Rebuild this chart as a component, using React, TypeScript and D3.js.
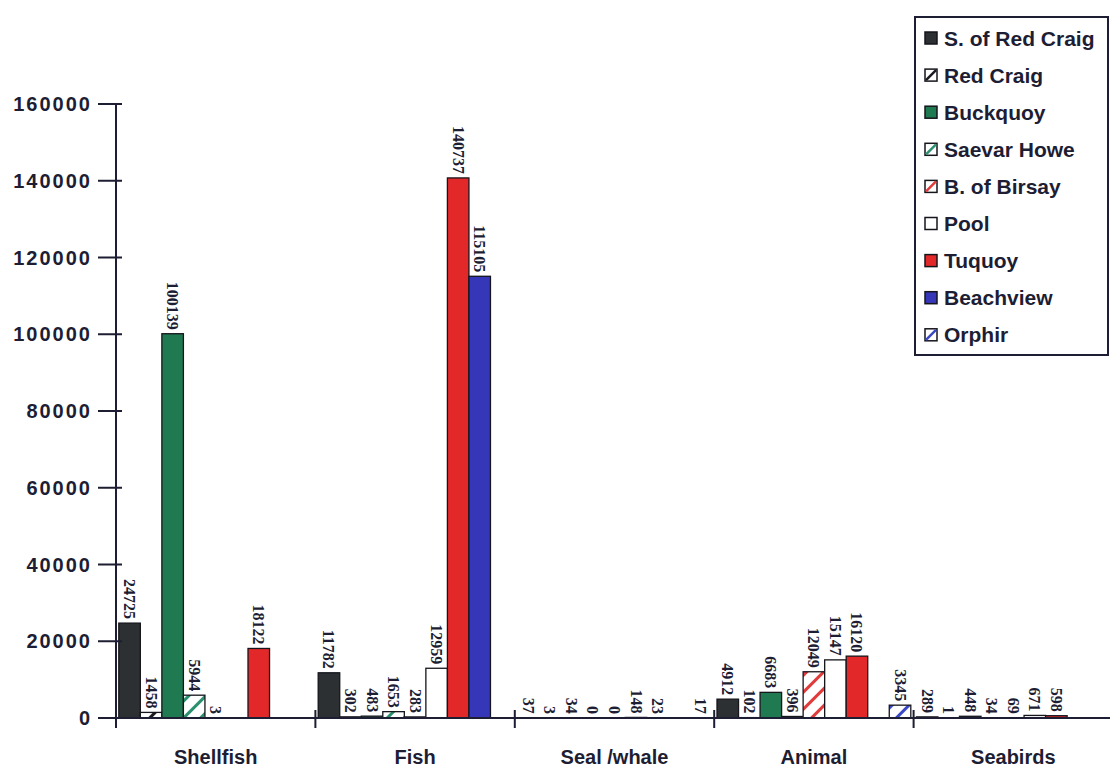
import React from "react";
import * as d3 from "d3";

const categories = ["Shellfish", "Fish", "Seal /whale", "Animal", "Seabirds"];
const seriesNames = [
  "S. of Red Craig",
  "Red Craig",
  "Buckquoy",
  "Saevar Howe",
  "B. of Birsay",
  "Pool",
  "Tuquoy",
  "Beachview",
  "Orphir",
];
const sRedCraig = [24725, 11782, 37, 4912, 289];
const redCraig = [1458, 302, 3, 102, 1];
const buckquoy = [100139, 483, 34, 6683, 448];
const saevarHowe = [5944, 1653, 0, 396, 34];
const birsay = [3, 283, 0, 12049, 69];
const pool = [null, 12959, 148, 15147, 671];
const tuquoy = [18122, 140737, 23, 16120, 598];
const beachview = [null, 115105, null, null, null];
const orphir = [null, null, 17, 3345, null];
const yTicks = [0, 20000, 40000, 60000, 80000, 100000, 120000, 140000, 160000];

const seriesValues: (number | null)[][] = [
  sRedCraig, redCraig, buckquoy, saevarHowe, birsay, pool, tuquoy, beachview, orphir,
];

type Style = { fill: string; hatch?: string };
const styles: Style[] = [
  { fill: "#2c3033" },
  { fill: "#ffffff", hatch: "#1a1a22" },
  { fill: "#1f7a52" },
  { fill: "#ffffff", hatch: "#2a9070" },
  { fill: "#ffffff", hatch: "#e03a3a" },
  { fill: "#ffffff" },
  { fill: "#e3282a" },
  { fill: "#3636b8" },
  { fill: "#ffffff", hatch: "#3a48c8" },
];

const ink = "#1d1d33";

export default function App() {
  const x0 = d3.scaleBand<string>().domain(categories).range([116, 1113]);
  const x1 = d3
    .scaleBand<string>()
    .domain(seriesNames)
    .range([0, x0.bandwidth()])
    .paddingInner(0)
    .paddingOuter(0.13);
  const y = d3.scaleLinear().domain([0, 160000]).range([718, 104]);

  const fillFor = (i: number) =>
    styles[i].hatch ? `url(#hatch${i})` : styles[i].fill;

  return (
    <svg width={1110} height={767} style={{ position: "absolute", left: 0, top: 0, background: "#fff" }}>
      <defs>
        {styles.map((s, i) =>
          s.hatch ? (
            <pattern
              key={i}
              id={`hatch${i}`}
              patternUnits="userSpaceOnUse"
              width={12}
              height={12}
              patternTransform="rotate(45)"
            >
              <rect width={12} height={12} fill="#fff" />
              <rect x={0} y={0} width={3} height={12} fill={s.hatch} />
            </pattern>
          ) : null
        )}
      </defs>

      {/* bars */}
      {categories.map((c, ci) =>
        seriesNames.map((s, si) => {
          const v = seriesValues[si][ci];
          if (v === null || v === undefined) return null;
          const bx = (x0(c) as number) + (x1(s) as number);
          const bw = x1.bandwidth();
          const top = y(v);
          return (
            <g key={`${ci}-${si}`}>
              <rect
                x={bx}
                y={top}
                width={bw}
                height={y(0) - top}
                fill={fillFor(si)}
                stroke="#15151c"
                strokeWidth={1.3}
              />
              <text
                transform={`translate(${bx + bw / 2},${top - 4}) rotate(90)`}
                textAnchor="end"
                dominantBaseline="central"
                fontFamily="'Liberation Serif', 'Times New Roman', serif"
                fontWeight="bold"
                fontSize={16}
                fill={ink}
              >
                {v}
              </text>
            </g>
          );
        })
      )}

      {/* y axis */}
      <line x1={116} x2={116} y1={y(160000)} y2={y(0)} stroke={ink} strokeWidth={2} />
      {yTicks.map((t) => (
        <g key={t}>
          <line x1={98} x2={122} y1={y(t)} y2={y(t)} stroke={ink} strokeWidth={2} />
          <text
            x={92}
            y={y(t)}
            textAnchor="end"
            dominantBaseline="central"
            fontFamily="'Liberation Sans', Arial, sans-serif"
            fontWeight="bold"
            fontSize={20}
            letterSpacing={2}
            fill={ink}
          >
            {t}
          </text>
        </g>
      ))}

      {/* x axis */}
      <line x1={116} x2={1110} y1={y(0)} y2={y(0)} stroke={ink} strokeWidth={2} />
      {categories.map((c) => (
        <line
          key={c}
          x1={x0(c) as number}
          x2={x0(c) as number}
          y1={y(0) - 8}
          y2={y(0) + 10}
          stroke={ink}
          strokeWidth={2}
        />
      ))}
      {categories.map((c) => (
        <text
          key={`l-${c}`}
          x={(x0(c) as number) + x0.bandwidth() / 2}
          y={757}
          textAnchor="middle"
          dominantBaseline="central"
          fontFamily="'Liberation Sans', Arial, sans-serif"
          fontWeight="bold"
          fontSize={20}
          fill={ink}
        >
          {c}
        </text>
      ))}

      {/* legend */}
      <rect x={915} y={17} width={193} height={338} fill="#fff" stroke={ink} strokeWidth={2} />
      {seriesNames.map((s, i) => {
        const cy = 38 + i * 37.1;
        return (
          <g key={s}>
            <rect
              x={925}
              y={cy - 6}
              width={12}
              height={12}
              fill={styles[i].fill}
              stroke="#15151c"
              strokeWidth={1.5}
            />
            {styles[i].hatch ? (
              <line
                x1={926}
                y1={cy + 5}
                x2={936}
                y2={cy - 5}
                stroke={styles[i].hatch}
                strokeWidth={2.5}
              />
            ) : null}
            <text
              x={944}
              y={cy}
              dominantBaseline="central"
              fontFamily="'Liberation Sans', Arial, sans-serif"
              fontWeight="bold"
              fontSize={21}
              fill={ink}
            >
              {s}
            </text>
          </g>
        );
      })}
    </svg>
  );
}
